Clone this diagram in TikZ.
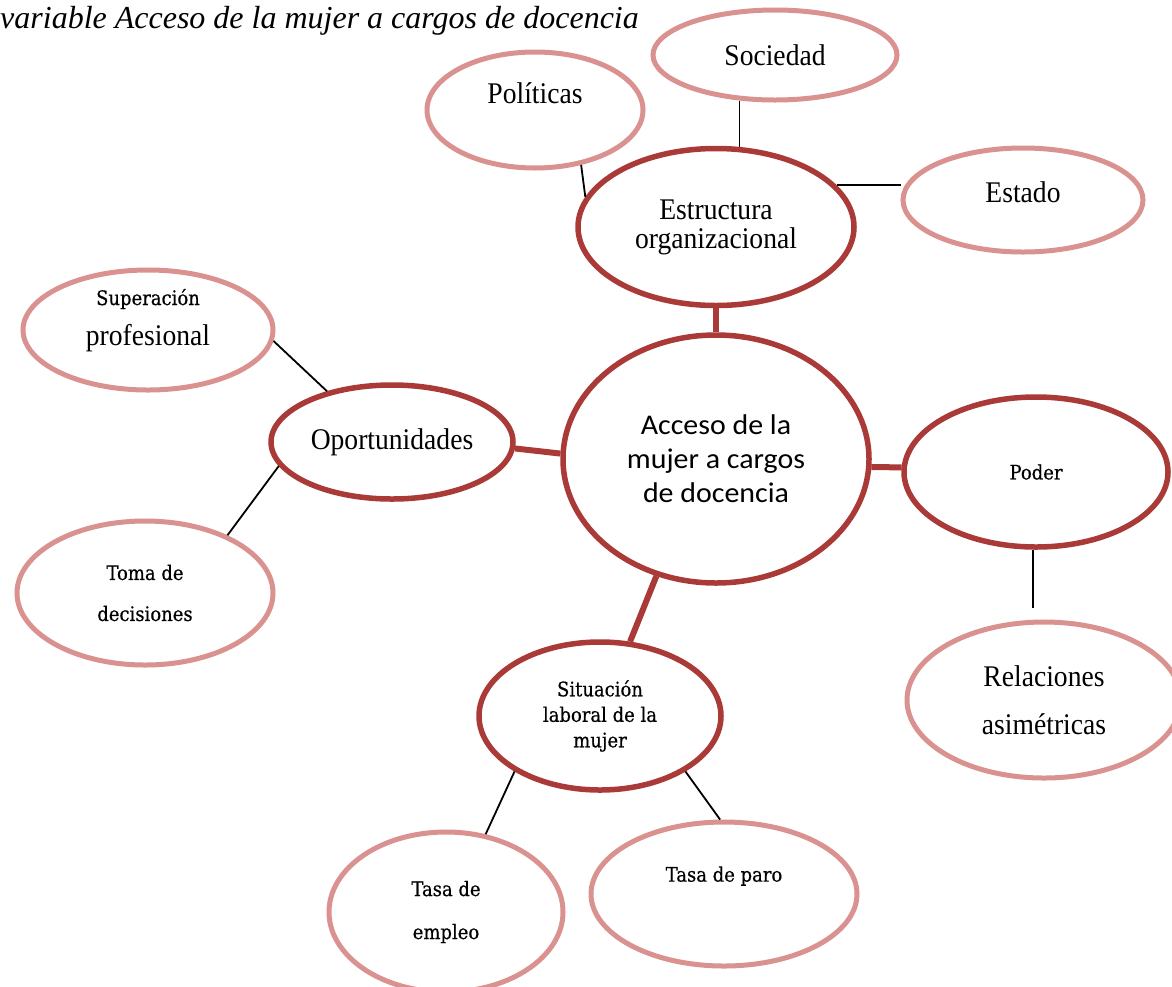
\documentclass[tikz,border=0pt]{standalone}
\usepackage{fontspec}
\setmainfont{Liberation Serif}
\newfontfamily\lblfont[FakeStretch=0.92]{Liberation Serif}
\newfontfamily\smfont[FakeStretch=0.9,FakeBold=0.5]{DejaVu Serif}
\newfontfamily\accfont[FakeStretch=1.05]{Carlito}
\usetikzlibrary{shapes.geometric}
\definecolor{darkr}{RGB}{170,58,56}
\definecolor{paler}{RGB}{217,146,144}
\tikzset{
  base/.style={ellipse, fill=white, inner sep=0pt, align=center, text=black},
  innerell/.style={base, draw=darkr, line width=5.5pt},
  outerell/.style={base, draw=paler, line width=5pt},
  sz/.style 2 args={minimum width=#1pt, minimum height=#2pt},
  link/.style={draw=black, line width=1.8pt},
  trunk/.style={draw=darkr, line width=6pt},
  big/.style={font=\lblfont\fontsize{30}{#1}\selectfont},
  big/.default=30,
  small/.style={font=\smfont\fontsize{20}{#1}\selectfont},
  small/.default=25,
}
\begin{document}
\begin{tikzpicture}[x=1pt,y=-1pt]
\fill[white] (0,0) rectangle (1172,986);
\useasboundingbox (0,0) rectangle (1172,986);

\node[anchor=base west, inner sep=0pt, font=\itshape\fontsize{32}{32}\selectfont] (title) at (0,28) {variable Acceso de la mujer a cargos de docencia};

% central
\node[innerell, sz={306}{248}, font=\accfont\fontsize{28.5}{34}\selectfont] (acceso) at (716,459) {Acceso de la\\mujer a cargos\\de docencia};

% first ring
\node[innerell, big=29, sz={276}{157}] (estructura) at (716,227) {Estructura\\organizacional};
\node[innerell, big, sz={242}{114}] (oportunidades) at (392,442) {Oportunidades};
\node[innerell, small, sz={264}{150}] (poder) at (1036,472) {Poder};
\node[innerell, small=25.5, sz={242}{148}] (situacion) at (600,716) {Situación\\laboral de la\\mujer};

% outer ring
\node[outerell, big, sz={244}{90}] (sociedad) at (775,55) {Sociedad};
\node[outerell, big=34, sz={216}{116}] (politicas) at (535,110) {Políticas\\ \mbox{}};
\node[outerell, big, sz={240}{104}] (estado) at (1023,200) {Estado\\[-14pt]\mbox{}};
\node[outerell, big=40, sz={250}{120}] (superacion) at (148,330) {{\smfont\fontsize{20}{40}\selectfont Superación}\\profesional\\[-14pt]\mbox{}};
\node[outerell, small=41, sz={256}{144}] (toma) at (145,593) {Toma de\\decisiones};
\node[outerell, big=48, sz={274}{156}] (relaciones) at (1044,700) {Relaciones\\asimétricas};
\node[outerell, small=43, sz={234}{160}] (empleo) at (446,912) {Tasa de\\empleo};
\node[outerell, small=40, sz={266}{144}] (paro) at (724,894) {Tasa de paro\\ \mbox{}};

% trunk connectors
\draw[trunk] (estructura.south) -- (acceso.north);
\draw[trunk] (oportunidades.-3) -- (acceso.178);
\draw[trunk] (acceso.-3) -- (poder.178);
\draw[trunk] (acceso.-117) -- (situacion.68);

% thin connectors
\draw[link] (sociedad.-128) -- (sociedad.-128 |- estructura.74);
\draw[link] (politicas.-50) -- (estructura.167);
\draw[link] (estructura.19) -- (estructura.19 -| estado.west);
\draw[link] (superacion.-5) -- (oportunidades.142);
\draw[link] (oportunidades.-168) -- (toma.35);
\draw[link, shorten >=12pt] (poder.-92) -- (poder.-92 |- relaciones.north);
\draw[link] (situacion.-147) -- (empleo.63);
\draw[link] (situacion.-33) -- (paro.93);
\end{tikzpicture}
\end{document}
